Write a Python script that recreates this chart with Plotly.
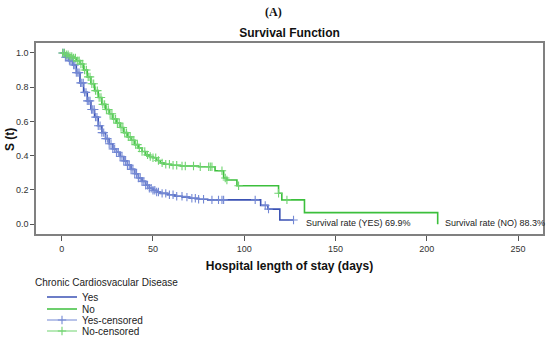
import numpy as np
import plotly.graph_objects as go

# ---- data ----
yes_time = [0, 2, 4, 6, 8, 10, 12, 14, 16, 18, 20, 22, 24, 26, 28, 30, 32, 34, 36, 38, 40,
            42, 44, 46, 48, 50, 52, 54, 58, 62, 66, 70, 75, 80, 109, 113, 119.5, 127]
yes_surv = [1.0, 0.975, 0.955, 0.93, 0.885, 0.825, 0.77, 0.72, 0.67, 0.625, 0.575, 0.535, 0.5,
            0.47, 0.44, 0.42, 0.395, 0.37, 0.345, 0.32, 0.295, 0.27, 0.25, 0.228, 0.21, 0.198,
            0.188, 0.18, 0.172, 0.163, 0.158, 0.152, 0.146, 0.142, 0.11, 0.088, 0.025, 0.025]

no_time = [0, 2, 4, 6, 8, 10, 12, 14, 16, 18, 20, 22, 24, 26, 28, 30, 32, 34, 36, 38, 40,
           42, 44, 46, 48, 50, 52, 54, 56, 60, 65, 75, 84, 88.7, 90.5, 96, 118.8, 120.6, 133, 206]
no_surv = [1.0, 0.99, 0.98, 0.97, 0.955, 0.935, 0.9, 0.86, 0.82, 0.78, 0.74, 0.7, 0.67, 0.645,
           0.615, 0.59, 0.565, 0.535, 0.51, 0.49, 0.465, 0.445, 0.425, 0.405, 0.395, 0.388,
           0.372, 0.358, 0.35, 0.344, 0.34, 0.336, 0.312, 0.27, 0.258, 0.225, 0.181, 0.142,
           0.068, 0.0]

yes_censored = [0.5, 1.2, 2, 2.8, 3.5, 4.2, 5, 5.8, 6.5, 7.2, 8, 8.8, 9.5, 10.3, 11, 11.8,
                12.5, 13.3, 14, 14.8, 15.5, 16.3, 17, 17.8, 18.5, 19.3, 20, 21, 22, 23, 24,
                25, 26, 27, 28, 29, 30, 31, 32, 33, 34, 35, 36, 37, 38, 39, 40, 41, 42, 43,
                44, 45, 46, 47, 48, 49, 50, 51, 52, 53, 55, 57, 59, 61, 63, 65.9, 68.6, 71.3,
                73.2, 75, 77.7, 82.3, 85.9, 87.8, 88.7, 106, 111.5, 113.3, 127]
no_censored = [0.5, 1.5, 2.5, 3.5, 4.5, 5.5, 6.5, 7.5, 8.5, 9.5, 10.5, 11.5, 12.5, 13.5, 14.5,
               15.5, 16.5, 17.5, 18.5, 19.5, 20.5, 21.5, 22.5, 23.5, 24.5, 25.5, 26.5, 27.5,
               28.5, 29.5, 30.5, 31.5, 32.5, 33.5, 34.5, 35.5, 36.5, 37.5, 38.5, 39.5, 40.5,
               41.5, 42.5, 44, 45.5, 47, 48.5, 50, 51.5, 53, 55, 57, 59, 61, 63, 65.9, 67.7,
               72.2, 75.9, 80.5, 81.4, 82.3, 87.8, 89.6, 90.5, 96.9, 118.8, 123.4]

x_ticks = [0, 50, 100, 150, 200, 250]
y_ticks = [0.0, 0.2, 0.4, 0.6, 0.8, 1.0]
annotations_text = ["Survival rate (YES) 69.9%", "Survival rate (NO) 88.3%"]
annotations_x = [133, 209]

BLUE = "#3b52b4"
GREEN = "#3cbf3c"
BLUE_C = "#7388d4"
GREEN_C = "#70d470"
FONT = "Liberation Sans, Arial, sans-serif"


def surv_at(times, surv, t):
    idx = np.searchsorted(np.array(times), np.array(t), side="right") - 1
    return list(np.array(surv)[idx])


def isolated(xs, ys):
    ox, oy = [], []
    for a, b in zip(xs, ys):
        ox += [a, None]
        oy += [b, None]
    return ox, oy


fig = go.Figure()
fig.add_trace(go.Scatter(x=yes_time, y=yes_surv, mode="lines", line=dict(color=BLUE, width=1.6, shape="hv"),
                         name="Yes", legend="legend"))
fig.add_trace(go.Scatter(x=no_time, y=no_surv, mode="lines", line=dict(color=GREEN, width=1.6, shape="hv"),
                         name="No", legend="legend2"))
cx, cy = isolated(yes_censored, surv_at(yes_time, yes_surv, yes_censored))
fig.add_trace(go.Scatter(x=cx, y=cy, mode="lines+markers", connectgaps=False,
                         line=dict(color=BLUE_C, width=1.2),
                         marker=dict(symbol="cross-thin", size=6, line=dict(color=BLUE_C, width=1.1)),
                         name="Yes-censored", legend="legend3"))
cx, cy = isolated(no_censored, surv_at(no_time, no_surv, no_censored))
fig.add_trace(go.Scatter(x=cx, y=cy, mode="lines+markers", connectgaps=False,
                         line=dict(color=GREEN_C, width=1.2),
                         marker=dict(symbol="cross-thin", size=6, line=dict(color=GREEN_C, width=1.1)),
                         name="No-censored", legend="legend4"))

ax_common = dict(showgrid=False, zeroline=False, showline=True, mirror=True, linecolor="#808080",
                 linewidth=1.5, ticks="outside", tickcolor="#555", tickwidth=1,
                 tickfont=dict(family=FONT, size=9, color="#333"))

fig.update_layout(
    width=550, height=339,
    margin=dict(l=36, r=7, t=43, b=105, autoexpand=False),
    paper_bgcolor="white", plot_bgcolor="white",
    font=dict(family=FONT, color="#222"),
    title=dict(text="<b>Survival Function</b>", x=0.5, xref="paper", y=1 - 33 / 339,
               yref="container", yanchor="middle", font=dict(family=FONT, size=12, color="#111")),
    xaxis=dict(range=[-14.1, 263.7], tickvals=x_ticks, ticklen=5,
               title=dict(text="<b>Hospital length of stay (days)</b>", standoff=9,
                          font=dict(family=FONT, size=12, color="#111")), **ax_common),
    yaxis=dict(range=[-0.057, 1.058], tickvals=y_ticks, tickformat=".1f", ticklen=4, **ax_common),
    showlegend=True,
)

leg_common = dict(bgcolor="rgba(0,0,0,0)", font=dict(family=FONT, size=10, color="#222"),
                  xref="container", yref="container",
                  xanchor="left", yanchor="middle", x=42 / 550, itemwidth=30)
for name, py in zip(["legend", "legend2", "legend3", "legend4"], [297, 309, 320, 331]):
    fig.update_layout({name: dict(y=1 - py / 339, **leg_common)})

fig.add_annotation(text="<b>(A)</b>", xref="paper", yref="paper", x=(273 - 36) / 507, y=(234 - 12) / 191,
                   xanchor="center", yanchor="middle", showarrow=False,
                   font=dict(family="Liberation Serif, Times New Roman, serif", size=12, color="#111"))
fig.add_annotation(text="<b>S (t)</b>", xref="paper", yref="paper", x=(10 - 36) / 507, y=(234 - 140) / 191,
                   xanchor="center", yanchor="middle", textangle=-90, showarrow=False,
                   font=dict(family=FONT, size=12, color="#111"))
fig.add_annotation(text="Chronic Cardiosvacular Disease", xref="paper", yref="paper",
                   x=(33 - 36) / 507, y=(234 - 282) / 191, xanchor="left", yanchor="middle",
                   showarrow=False, font=dict(family=FONT, size=10, color="#222"))
for t, xv in zip(annotations_text, annotations_x):
    fig.add_annotation(text=t, x=xv, y=0.008, xanchor="left", yanchor="middle", showarrow=False,
                       font=dict(family=FONT, size=9, color="#222"))

fig.write_html("out.html", config={"displayModeBar": False},
               post_script="document.body.style.margin='0';")
